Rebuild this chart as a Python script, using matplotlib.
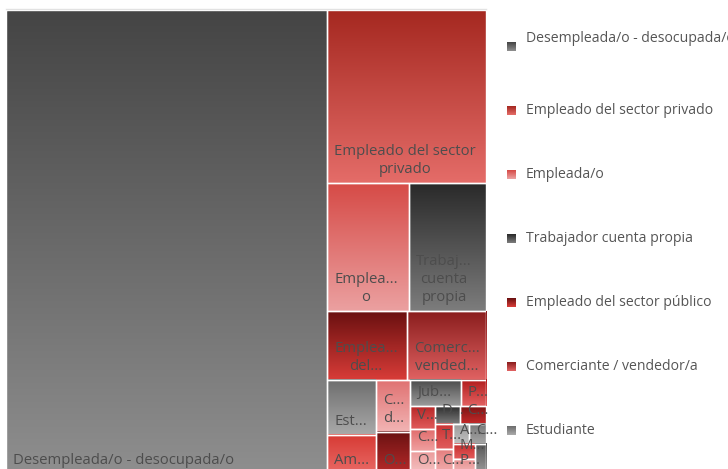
import re
import numpy as np
import matplotlib
matplotlib.use("Agg")
import matplotlib.pyplot as plt
from matplotlib.colors import to_rgb
from matplotlib.font_manager import FontProperties
from matplotlib.patches import Rectangle

# occupation categories, largest first (counts of respondents)
categories = [
    "Desempleada/o - desocupada/o",
    "Empleado del sector privado",
    "Empleada/o",
    "Trabajador cuenta propia",
    "Empleado del sector público",
    "Comerciante / vendedor/a",
    "Estudiante",
    "Ama de casa",
    "Cuidado del hogar",
    "Otro",
    "Jubilada/o",
    "Pensionada/o",
    "Vendedora ambulante",
    "Changarín",
    "Obrera/o",
    "Docente",
    "Costurera",
    "Trabajadora doméstica",
    "Cocinera",
    "Albañil",
    "Chofer",
    "Mecánico",
    "Peluquera",
    "Enfermera",
]
counts = [1338, 247, 94, 88, 49, 49, 24, 17, 16, 13, 12, 6,
          5, 5, 5, 4, 4, 4, 4, 3, 3, 3, 3, 3]
legend_count = 7

# gradient per category: colour at the top, colour at the bottom
palette = [
    ("#454545", "#8e8e8e"), ("#a52820", "#e46c68"), ("#d64b47", "#eba0a0"),
    ("#2a2a2a", "#7c7c7c"), ("#6a1010", "#d83c38"), ("#8a1d1d", "#e06262"),
    ("#6e6e6e", "#a9a9a9"), ("#d63a34", "#ea6a66"), ("#e07272", "#f2b4b4"),
    ("#6a1212", "#b82a2a"), ("#4a4a4a", "#9a9a9a"), ("#b01c1c", "#e36060"),
    ("#b82626", "#e05a5a"), ("#e06a6a", "#f0a0a0"), ("#eb9a9a", "#f5c4c4"),
    ("#2d2d2d", "#7a7a7a"), ("#7c1414", "#c42a2a"), ("#c83232", "#e05c5c"),
    ("#e47c7c", "#f2b0b0"), ("#9a9a9a", "#c0c0c0"), ("#777777", "#a5a5a5"),
    ("#c22c2c", "#e45a5a"), ("#e58a8a", "#f3bcbc"), ("#555555", "#9c9c9c"),
]

FONT = ["Open Sans", "DejaVu Sans"]
TEXT_COLOR = "#4d4d4d"
ELLIPSIS = "..."
W, H = 480.0, 464.0   # plot area in pixels


def worst(row, side):
    s = sum(row)
    return max(max(side * side * r / (s * s), s * s / (side * side * r)) for r in row)


def squarify(areas, x, y, w, h):
    '''classic squarified layout, rows laid along the shorter side'''
    rects = []
    vals = list(areas)
    while vals:
        side = min(w, h)
        row = [vals[0]]
        i = 1
        while i < len(vals) and worst(row + [vals[i]], side) <= worst(row, side):
            row.append(vals[i])
            i += 1
        s = sum(row)
        if w >= h:
            cw = s / h
            yy = y
            for a in row:
                rects.append((x, yy, cw, a / cw))
                yy += a / cw
            x += cw
            w -= cw
        else:
            rh = s / w
            xx = x
            for a in row:
                rects.append((xx, y, a / rh, rh))
                xx += a / rh
            y += rh
            h -= rh
        vals = vals[i:]
    return rects


def gradient(top, bottom, n=64):
    t = np.linspace(0, 1, n).reshape(-1, 1, 1)
    return (1 - t) * np.array(to_rgb(top)) + t * np.array(to_rgb(bottom))


def tokens(text):
    # split on spaces, allow a break after a slash inside a word,
    # keep a lone "/" or "-" with the word before it
    out = []
    for word in text.split(" "):
        if word in ("/", "-") and out:
            out[-1] = (out[-1][0] + " " + word, out[-1][1])
            continue
        parts = re.findall(r"[^/]*/|[^/]+", word)
        for j, p in enumerate(parts):
            out.append((p, j == 0))
    return out


def fit_label(text, w, h, prop, renderer):
    pad, line_h = 6.4, 20
    avail = w - 2 * pad

    def width(s):
        return renderer.get_text_width_height_descent(s, prop, ismath=False)[0]

    def clip(s, more=False):
        if not more and width(s) <= avail:
            return s
        while s and width(s + ELLIPSIS) > avail:
            s = s[:-1]
        s = s.rstrip(" /")
        return (s if s else text[0]) + ELLIPSIS

    lines, cur = [], ""
    for tok, space in tokens(text):
        cand = cur + (" " if (space and cur) else "") + tok
        if not cur or width(cand) <= avail:
            cur = cand
        else:
            lines.append(cur)
            cur = tok
    lines.append(cur)
    max_lines = max(1, int((h - 10) // line_h))
    if len(lines) > max_lines:
        lines = lines[:max_lines]
        lines = [clip(s) for s in lines[:-1]] + [clip(lines[-1], more=True)]
    else:
        lines = [clip(s) for s in lines]
    return "\n".join(lines)


fig = plt.figure(figsize=(7.28, 4.69), dpi=100)
fig.patch.set_facecolor("white")
renderer = fig.canvas.get_renderer()

# plot area: 6px from the left, 10px from the top, runs past the bottom edge
ax = fig.add_axes([6 / 728, (469 - 10 - H) / 469, W / 728, H / 469])
ax.set_xlim(0, W)
ax.set_ylim(H, 0)
ax.axis("off")

total = sum(counts)
areas = [c / total * W * H for c in counts]
rects = squarify(areas, 0, 0, W, H)

label_prop = FontProperties(family=FONT, size=10.7)
for name, (x, y, w, h), (top, bottom) in zip(categories, rects, palette):
    ax.imshow(gradient(top, bottom), extent=(x, x + w, y + h, y),
              aspect="auto", interpolation="bilinear", zorder=1)
    ax.add_patch(Rectangle((x, y), w, h, facecolor="none",
                           edgecolor="white", linewidth=1.0, zorder=2))
    if h < 15 or w < 15:
        continue
    label = fit_label(name, w, h, label_prop, renderer)
    ax.text(x + 7, y + h - 6, label, ha="left", va="bottom",
            multialignment="center", fontproperties=label_prop,
            color=TEXT_COLOR, linespacing=1.3, zorder=3)

ax.set_xlim(0, W)
ax.set_ylim(H, 0)

# faint border along the top of the plot
ax.plot([0, W], [-1.5, -1.5], color="#e2e2e2", lw=1, clip_on=False)

# legend drawn in figure pixel coordinates
lax = fig.add_axes([0, 0, 1, 1], zorder=5)
lax.set_xlim(0, 728)
lax.set_ylim(469, 0)
lax.axis("off")
legend_prop = FontProperties(family=FONT, size=10.1)
for i in range(legend_count):
    yc = 47 + 64 * i
    top, bottom = palette[i]
    lax.imshow(gradient(top, bottom, 16), extent=(507, 516, yc + 4.5, yc - 4.5),
               aspect="auto", interpolation="bilinear")
    ty = yc - 9 if i == 0 else yc
    lax.text(526, ty, categories[i], ha="left", va="center",
             fontproperties=legend_prop, color="#555555")
lax.set_xlim(0, 728)
lax.set_ylim(469, 0)

fig.savefig("out.png", dpi=100)
